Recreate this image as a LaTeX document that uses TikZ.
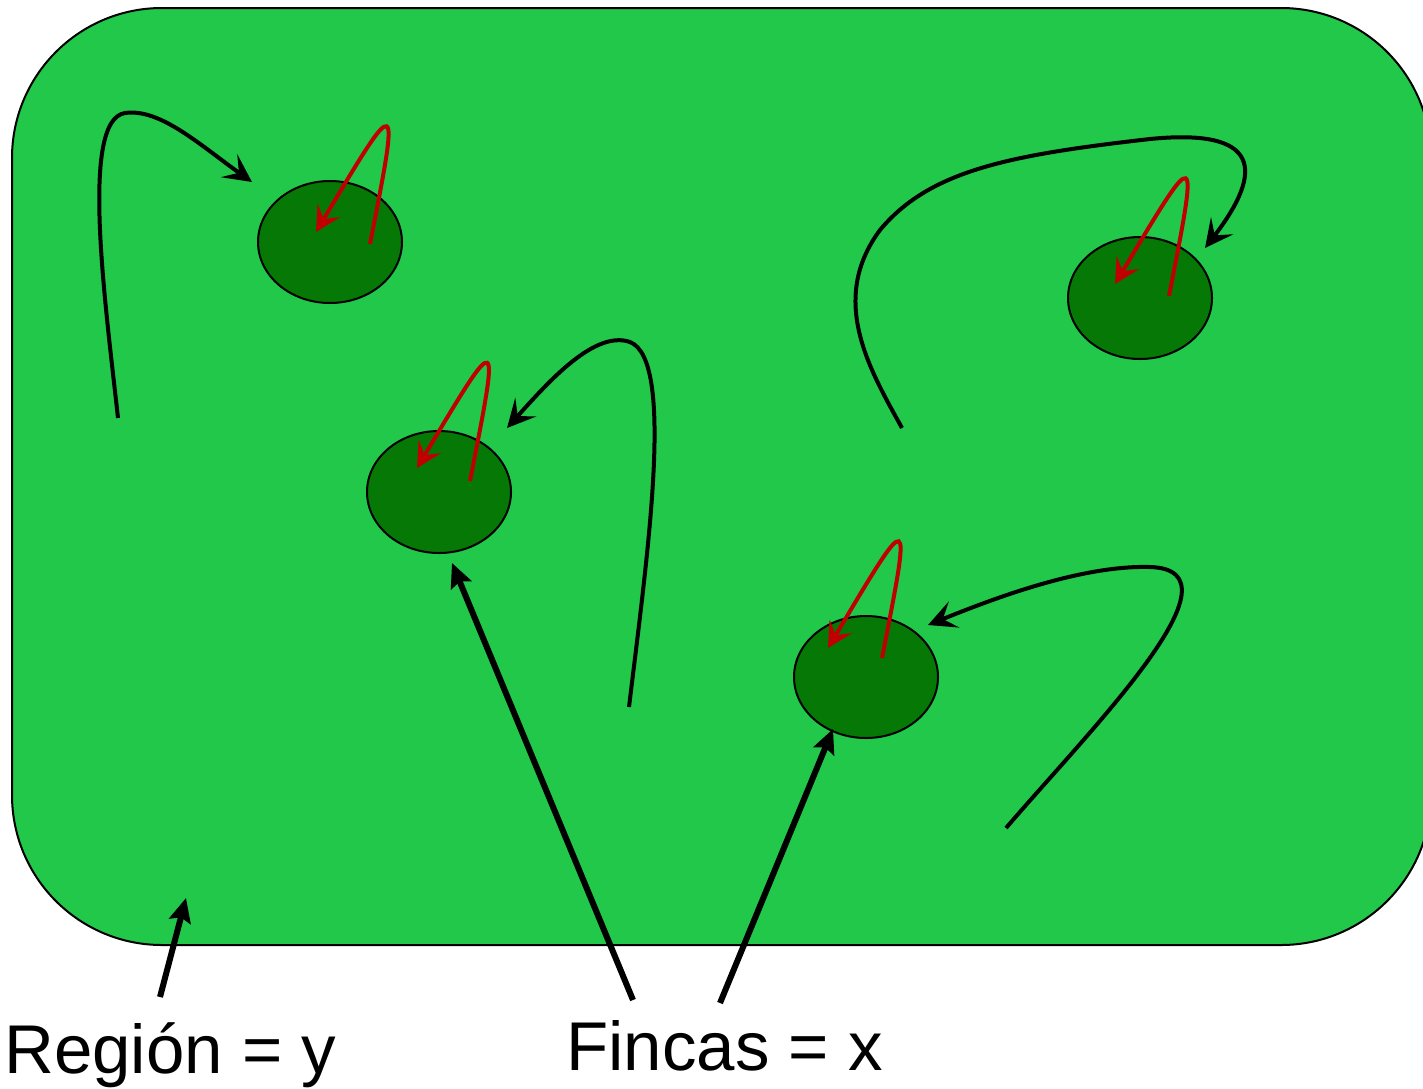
\documentclass[tikz,border=0pt]{standalone}
\usepackage{fontspec}
\setmainfont{Liberation Sans}
\usetikzlibrary{arrows.meta,shapes.geometric}
\definecolor{regiongreen}{HTML}{22C84A}
\definecolor{fincagreen}{HTML}{067806}
\definecolor{flowred}{HTML}{C00000}
\begin{document}
\begin{tikzpicture}[x=0.5pt,y=-0.5pt,
  regionbox/.style={draw=black,line width=1pt,fill=regiongreen,rounded corners=75pt},
  fincanode/.style={ellipse,draw=black,line width=1pt,fill=fincagreen,minimum width=72pt,minimum height=61pt,inner sep=0pt},
  moveline/.style={draw=black,line width=2pt,-{Stealth[length=14pt,width=14pt,inset=6pt]}},
  selfline/.style={draw=flowred,line width=2pt,-{Stealth[length=12.5pt,width=13pt,inset=5pt]}},
  labelline/.style={draw=black,line width=3pt,-{Stealth[length=12pt,width=11pt,inset=2pt]}},
  labeltext/.style={inner sep=0pt,anchor=base west,font=\fontsize{34.5pt}{40pt}\selectfont}]
\useasboundingbox (0,0) rectangle (1423,1088);
\clip (0,0) rectangle (1423,1088);
\path[regionbox] (12,8) rectangle (1431,945);
% fincas
\node[fincanode] (e1) at (330,242) {};
\node[fincanode] (e2) at (439,492) {};
\node[fincanode] (e3) at (1140,298) {};
\node[fincanode] (e4) at (866,677) {};
% free ends of black movement curves
\coordinate (a0) at (118,418);
\coordinate (a1) at (252,182);
\coordinate (b0) at (629,707);
\coordinate (b1) at (507,428);
\coordinate (c0) at (902,428);
\coordinate (c1) at (1205,248);
\coordinate (d0) at (1006,828);
\coordinate (d1) at (928,625);
\draw[moveline] (a0) .. controls (105,300) and (80,120) .. (125,113) .. controls (160,108) and (200,145) .. (a1);
\draw[moveline] (b0) .. controls (648,550) and (675,360) .. (630,342) .. controls (595,330) and (550,380) .. (b1);
\draw[moveline] (c0) .. controls (870,370) and (828,300) .. (880,230) .. controls (930,170) and (1010,155) .. (1150,139) .. controls (1260,128) and (1265,170) .. (c1);
\draw[moveline] (d0) .. controls (1090,730) and (1250,570) .. (1150,567) .. controls (1080,565) and (990,600) .. (d1);
% red self loops
\coordinate (r1s) at (370,244); \coordinate (r1e) at (316,232);
\coordinate (r2s) at (470,481); \coordinate (r2e) at (417,468);
\coordinate (r3s) at (1169,296); \coordinate (r3e) at (1115,284);
\coordinate (r4s) at (882,658); \coordinate (r4e) at (828,648);
\foreach \k in {1,2,3,4}{
  \draw[selfline] (r\k s) .. controls +(30,-153) and +(84,-141) .. (r\k e);
}
% labels
\node[labeltext] (region) at (4,1073) {Región = y};
\node[labeltext] (fincas) at (566,1070) {Fincas = x};
\coordinate (ry0) at (160,997);
\coordinate (ry1) at (186,898);
\coordinate (fx0) at (633,1000);
\coordinate (fx1) at (452,563);
\coordinate (fy0) at (720,1003);
\coordinate (fy1) at (833,729);
\draw[labelline] (ry0) -- (ry1);
\draw[labelline] (fx0) -- (fx1);
\draw[labelline] (fy0) -- (fy1);
\end{tikzpicture}
\end{document}
